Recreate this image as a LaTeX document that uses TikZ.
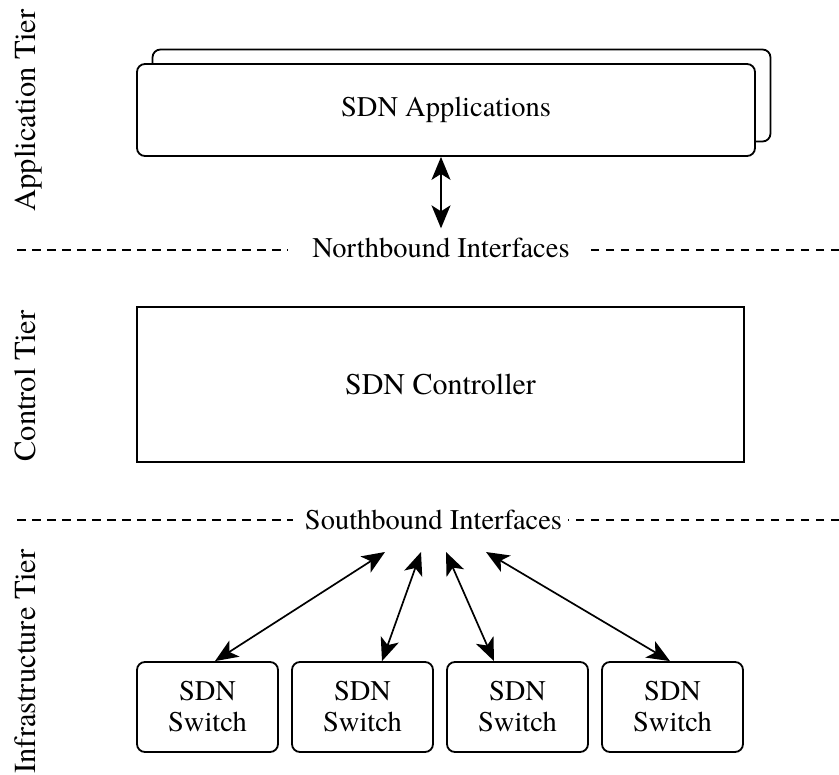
\documentclass[tikz,border=0pt]{standalone}
\usepackage{fontspec}
\setmainfont{texgyretermes}[Extension=.otf, UprightFont=*-regular,
  BoldFont=*-bold, ItalicFont=*-italic, BoldItalicFont=*-bolditalic]
\usetikzlibrary{arrows.meta}
\begin{document}
\begin{tikzpicture}[x=1pt,y=-1pt,
  txt/.style={font=\rmfamily\fontsize{28.5}{31}\selectfont},
  lbl/.style={txt, inner sep=0pt},
  tier/.style={font=\rmfamily\fontsize{30.5}{33}\selectfont, inner sep=0pt, rotate=90, anchor=base},
  appbox/.style={draw, line width=1.8pt, rounded corners=8pt, fill=white,
    minimum width=618pt, minimum height=92pt, inner sep=0pt, txt},
  ctrlbox/.style={draw, line width=1.8pt, minimum width=607pt, minimum height=155pt,
    inner sep=0pt, font=\rmfamily\fontsize{30}{33}\selectfont},
  swbox/.style={draw, line width=1.8pt, rounded corners=8pt, minimum width=141pt,
    minimum height=90pt, inner sep=0pt, align=center, txt},
  link/.style={line width=1.7pt, {Stealth[length=23pt,width=19pt,inset=6pt]}-{Stealth[length=23pt,width=19pt,inset=6pt]}},
  divider/.style={line width=1.7pt, dash pattern=on 8.5pt off 6.5pt}]

\useasboundingbox (0,0) rectangle (839,775);

% tier captions
\node[tier] (tapp) at (35,110.5) {Application Tier};
\node[tier] (tctl) at (35,386) {Control Tier};
\node[tier] (tinf) at (35,661.5) {Infrastructure Tier};

% application tier: stacked application boxes
\node[appbox] (appback) at (461.5,95.5) {};
\node[appbox] (app) at (446,110) {SDN Applications};

% northbound divider
\node[lbl, anchor=base] (nb) at (441,258) {Northbound Interfaces};
\coordinate (nbl) at (17,250);
\coordinate (nbr) at (839,250);
\draw[divider] (nbl) -- (nbl -| nb.west) [shorten >=25pt];
\draw[divider] (nbr) -- (nbr -| nb.east) [shorten >=20pt];
\draw[link] (nb.north |- app.south) -- ([yshift=10pt]nb.north);

% control tier
\node[ctrlbox] (ctl) at (440.5,384.5) {SDN Controller};

% southbound divider
\node[lbl, anchor=base] (sb) at (433.5,530) {Southbound Interfaces};
\coordinate (sbl) at (17,520);
\coordinate (sbr) at (839,520);
\draw[divider] (sbl) -- (sbl -| sb.west) [shorten >=12pt];
\draw[divider] (sbr) -- (sbr -| sb.east) [shorten >=6pt];

% infrastructure tier: switches
\node[swbox] (sw1) at (207.5,707) {SDN\\Switch};
\node[swbox] (sw2) at (362.5,707) {SDN\\Switch};
\node[swbox] (sw3) at (517.5,707) {SDN\\Switch};
\node[swbox] (sw4) at (672.5,707) {SDN\\Switch};

\coordinate (s1) at (385,552);
\coordinate (s2) at (421,552);
\coordinate (s3) at (446,552);
\coordinate (s4) at (486,552);

\draw[link] (s1) -- ([xshift=7.5pt]sw1.north);
\draw[link] (s2) -- ([xshift=19.5pt]sw2.north);
\draw[link] (s3) -- ([xshift=-23.5pt]sw3.north);
\draw[link] (s4) -- ([xshift=-2.5pt]sw4.north);
\end{tikzpicture}
\end{document}
